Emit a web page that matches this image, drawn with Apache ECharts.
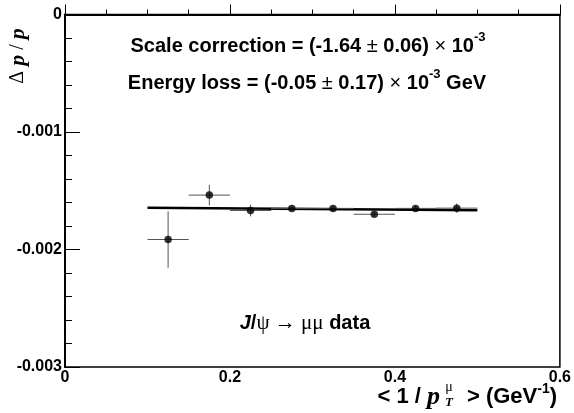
<!DOCTYPE html>
<html><head><meta charset="utf-8">
<script src="https://cdn.jsdelivr.net/npm/echarts@6/dist/echarts.min.js"></script>
<style>html,body{margin:0;padding:0;background:#fff}#c{width:574px;height:413px}</style>
</head><body><div id="c"></div>
<script>
const xVals = [0.125, 0.175, 0.225, 0.275, 0.325, 0.375, 0.425, 0.475];
const yVals = [-0.001915, -0.001537, -0.001668, -0.00165, -0.00165, -0.0017, -0.00165, -0.001648];
const xErr = [0.025, 0.025, 0.025, 0.025, 0.025, 0.025, 0.025, 0.025];
const yErr = [0.00024, 0.000088, 0.00005, 0.00002, 0.00002, 0.00002, 0.00002, 0.00004];
const fitX = [0.1, 0.5];
const fitY = [-0.001645, -0.001665];
const xTicks = [0, 0.2, 0.4, 0.6];
const yTicks = [-0.003, -0.002, -0.001, 0];

const F = 'Liberation Sans, Arial, sans-serif';
const S = 'Liberation Serif, serif';
const chart = echarts.init(document.getElementById('c'));
const pts = xVals.map((x, i) => [x, yVals[i], xErr[i], yErr[i]]);
const supStyle = {fontFamily: F, fontWeight: 'bold', fontSize: 13, verticalAlign: 'top', lineHeight: 30};
const nStyle = {fontFamily: F, fontWeight: 'normal', fontSize: 20};
chart.setOption({
  animation: false,
  grid: {left: 65, right: 11.5, top: 14.5, bottom: 46, show: true, borderColor: '#000', borderWidth: 1.5},
  xAxis: {
    type: 'value', min: xTicks[0], max: xTicks[xTicks.length - 1], interval: 0.2,
    axisLine: {lineStyle: {color: '#000', width: 2}},
    axisTick: {inside: true, length: 10, lineStyle: {color: '#000'}},
    minorTick: {show: true, splitNumber: 4, length: 5, lineStyle: {color: '#000'}},
    splitLine: {show: false},
    axisLabel: {color: '#000', fontFamily: F, fontWeight: 'bold', fontSize: 16, margin: 3,
      formatter: v => String(+v.toFixed(1))}
  },
  yAxis: {
    type: 'value', min: yTicks[0], max: yTicks[yTicks.length - 1], interval: 0.001,
    axisLine: {lineStyle: {color: '#000', width: 2}},
    axisTick: {inside: true, length: 15, lineStyle: {color: '#000'}},
    minorTick: {show: true, splitNumber: 5, length: 7, lineStyle: {color: '#000'}},
    splitLine: {show: false},
    axisLabel: {color: '#000', fontFamily: F, fontWeight: 'bold', fontSize: 16, margin: 3,
      formatter: v => v === 0 ? '0' : v.toFixed(3)}
  },
  series: [
    {
      type: 'line', data: fitX.map((x, i) => [x, fitY[i]]), symbol: 'none',
      lineStyle: {color: '#000', width: 2.5}, z: 3
    },
    {
      type: 'custom', data: pts, z: 4,
      renderItem: (params, api) => {
        const x = api.value(0), y = api.value(1), ex = api.value(2), ey = api.value(3);
        const l = api.coord([x - ex, y]), r = api.coord([x + ex, y]);
        const t = api.coord([x, y + ey]), b = api.coord([x, y - ey]);
        const st = {stroke: '#555', lineWidth: 1};
        return {type: 'group', children: [
          {type: 'line', shape: {x1: l[0], y1: l[1], x2: r[0], y2: r[1]}, style: st},
          {type: 'line', shape: {x1: t[0], y1: t[1], x2: b[0], y2: b[1]}, style: st}
        ]};
      }
    },
    {
      type: 'scatter', data: pts.map(p => [p[0], p[1]]), symbol: 'circle', symbolSize: 7.5,
      itemStyle: {color: '#000'}, z: 5
    }
  ],
  graphic: [
    {type: 'text', x: 308, y: 46, style: {
      text: 'Scale correction = (-1.64 {n|±} 0.06) {n|×} 10{sup|-3}',
      align: 'center', verticalAlign: 'middle', fill: '#000',
      font: 'bold 20px ' + F, rich: {n: nStyle, sup: supStyle}
    }},
    {type: 'text', x: 307, y: 83, style: {
      text: 'Energy loss = (-0.05 {n|±} 0.17) {n|×} 10{sup|-3} GeV',
      align: 'center', verticalAlign: 'middle', fill: '#000',
      font: 'bold 20px ' + F, rich: {n: nStyle, sup: supStyle}
    }},
    {type: 'text', x: 305, y: 323, style: {
      text: '{i|J}/{s|ψ → μμ} data',
      align: 'center', verticalAlign: 'middle', fill: '#000',
      font: 'bold 20px ' + F,
      rich: {i: {fontFamily: F, fontWeight: 'bold', fontStyle: 'italic', fontSize: 20},
             s: {fontFamily: S, fontWeight: 'normal', fontSize: 21}}
    }},
    {type: 'text', x: 18, y: 56, rotation: Math.PI / 2, style: {
      text: 'Δ {p|p} / {p|p}', align: 'center', verticalAlign: 'middle', fill: '#000',
      font: '20px ' + S,
      rich: {p: {fontFamily: S, fontWeight: 'bold', fontStyle: 'italic', fontSize: 22}}
    }},
    {type: 'text', x: 440, y: 397, style: {
      text: '< 1 / {p|p}', align: 'right', verticalAlign: 'middle', fill: '#000',
      font: 'bold 22px ' + F,
      rich: {p: {fontFamily: S, fontWeight: 'bold', fontStyle: 'italic', fontSize: 26}}
    }},
    {type: 'text', x: 449, y: 403, style: {
      text: 'T', align: 'center', verticalAlign: 'middle', fill: '#000',
      font: 'italic bold 13px ' + S
    }},
    {type: 'text', x: 449, y: 387, style: {
      text: 'μ', align: 'center', verticalAlign: 'middle', fill: '#000',
      font: '14px ' + S
    }},
    {type: 'text', x: 557, y: 397, style: {
      text: '> (GeV{sup|-1})', align: 'right', verticalAlign: 'middle', fill: '#000',
      font: 'bold 22px ' + F,
      rich: {sup: {fontFamily: F, fontWeight: 'bold', fontSize: 14, verticalAlign: 'top', lineHeight: 30}}
    }}
  ]
});
</script></body></html>
